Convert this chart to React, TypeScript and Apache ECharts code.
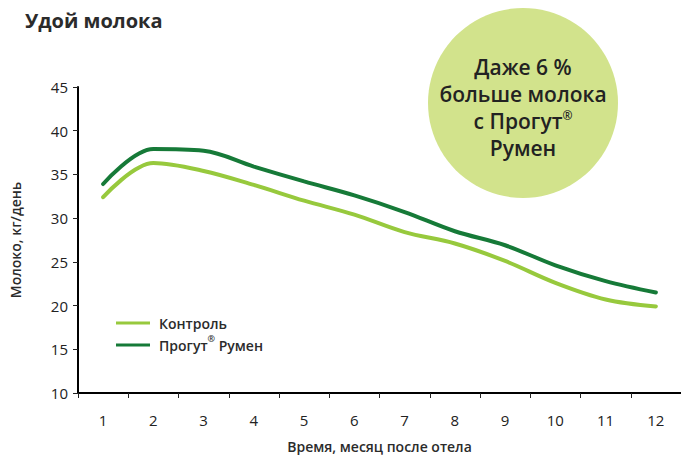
import React, { useEffect, useRef } from "react";
import * as echarts from "echarts";

const months = ["1", "2", "3", "4", "5", "6", "7", "8", "9", "10", "11", "12"];
const control = [32.4, 36.3, 35.4, 33.8, 32.0, 30.4, 28.4, 27.1, 25.1, 22.6, 20.7, 19.9];
const progut = [33.9, 37.9, 37.7, 35.9, 34.2, 32.6, 30.7, 28.5, 26.9, 24.6, 22.8, 21.5];
const seriesNames = ["Контроль", "Прогут® Румен"];
const bubbleLines = ["Даже 6 %", "больше молока", "с Прогут{sup|®}", "Румен"];

const FONT = "'Open Sans', 'Noto Sans', sans-serif";
const LIGHT = "#97c93d";
const DARK = "#167a38";

export default function App() {
  const ref = useRef<HTMLDivElement>(null);
  useEffect(() => {
    if (!ref.current) return;
    const chart = echarts.init(ref.current, undefined, { renderer: "svg" });
    chart.setOption({
      animation: false,
      backgroundColor: "#ffffff",
      textStyle: { fontFamily: FONT },
      title: {
        text: "Удой молока",
        left: 20,
        top: 5,
        textStyle: { fontFamily: FONT, fontSize: 20, fontWeight: 700, color: "#2b2b2b" },
      },
      grid: { left: 77, right: 0, top: 87, bottom: 64, containLabel: false },
      legend: {
        left: 111,
        top: 307,
        orient: "vertical",
        itemGap: 0,
        itemWidth: 34,
        itemHeight: 3,
        icon: "rect",
        formatter: (n: string) => n.replace("®", "{sup|®}"),
        textStyle: {
          fontFamily: FONT,
          fontSize: 14,
          fontWeight: 600,
          lineHeight: 22,
          color: "#2b2b2b",
          padding: [0, 0, 0, 4],
          rich: {
            sup: { fontFamily: FONT, fontSize: 9, fontWeight: 600, color: "#2b2b2b", verticalAlign: "top", lineHeight: 19 },
          },
        },
        data: seriesNames,
      },
      xAxis: {
        type: "category",
        data: months,
        boundaryGap: true,
        name: "Время, месяц после отела",
        nameLocation: "middle",
        nameGap: 46,
        nameTextStyle: { fontFamily: FONT, fontSize: 14, fontWeight: 600, color: "#2b2b2b" },
        axisLine: { lineStyle: { color: "#000", width: 2 } },
        axisTick: { show: true, alignWithLabel: false, length: 5, lineStyle: { color: "#222", width: 1 } },
        axisLabel: { fontFamily: FONT, fontSize: 15, color: "#222", margin: 19 },
        splitLine: { show: false },
      },
      yAxis: {
        type: "value",
        min: 10,
        max: 45,
        interval: 5,
        name: "Молоко, кг/день",
        nameLocation: "middle",
        nameGap: 56,
        nameTextStyle: { fontFamily: FONT, fontSize: 14, fontWeight: 600, color: "#2b2b2b" },
        axisLine: { show: true, lineStyle: { color: "#000", width: 2 } },
        axisTick: { show: true, length: 5, lineStyle: { color: "#222", width: 1 } },
        axisLabel: { fontFamily: FONT, fontSize: 15, color: "#222", margin: 10 },
        splitLine: { show: false },
      },
      series: [
        {
          name: seriesNames[0],
          type: "line",
          data: control,
          smooth: 0.35,
          symbol: "none",
          lineStyle: { color: LIGHT, width: 4, cap: "round" },
          itemStyle: { color: LIGHT },
          z: 3,
        },
        {
          name: seriesNames[1],
          type: "line",
          data: progut,
          smooth: 0.35,
          symbol: "none",
          lineStyle: { color: DARK, width: 4, cap: "round" },
          itemStyle: { color: DARK },
          z: 4,
        },
      ],
      graphic: [
        {
          type: "circle",
          shape: { cx: 523, cy: 103, r: 95 },
          style: { fill: "#d2e38c" },
          z: 1,
        },
        ...bubbleLines.map((t, i) => ({
          type: "text",
          x: 523,
          y: 67 + i * 27,
          z: 2,
          style: {
            text: t,
            fill: "#222",
            font: `600 21px ${FONT}`,
            lineHeight: 24,
            textAlign: "center",
            textVerticalAlign: "middle",
            rich: {
              sup: { fontFamily: FONT, fontSize: 12, fontWeight: 600, fill: "#222", verticalAlign: "top", lineHeight: 22 },
            },
          },
        })),
      ],
    });
    return () => chart.dispose();
  }, []);
  return <div ref={ref} style={{ width: 681, height: 458, position: "absolute", left: 0, top: 0 }} />;
}
